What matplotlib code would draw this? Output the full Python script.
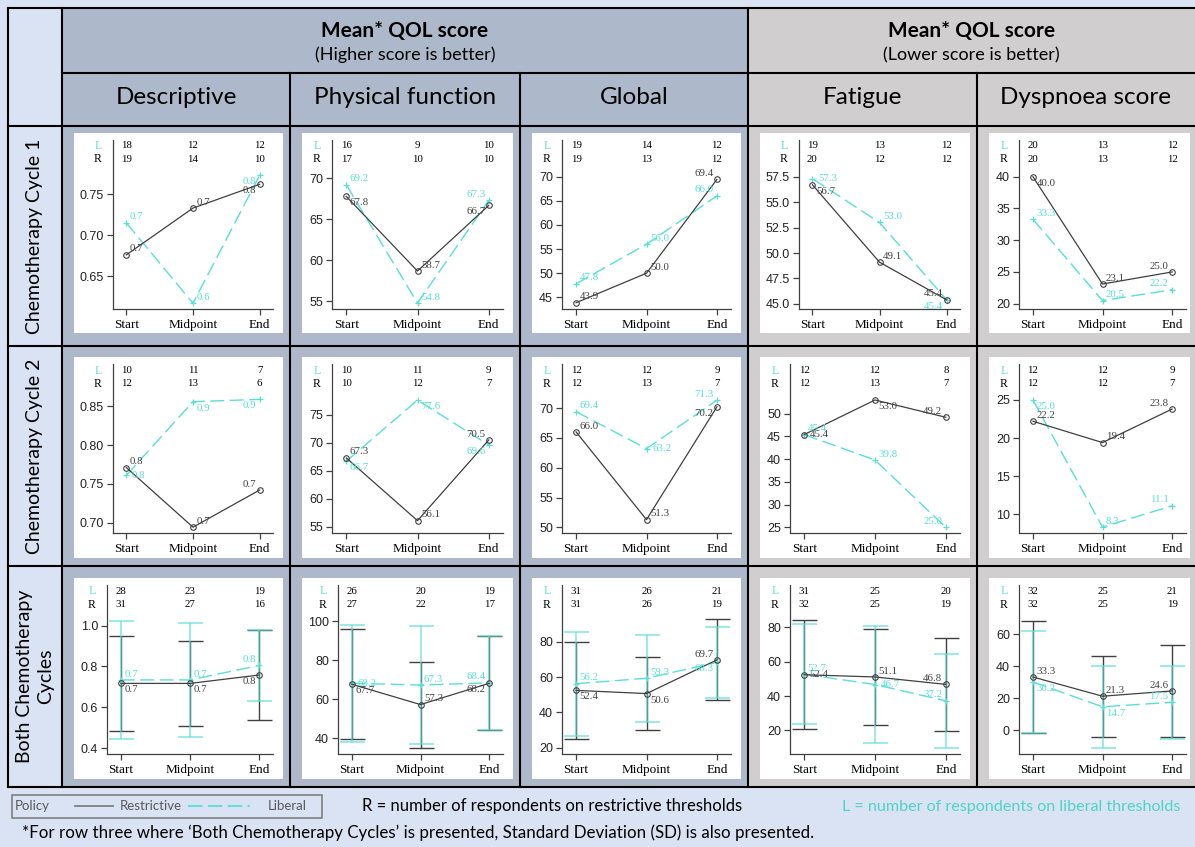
import matplotlib
matplotlib.use("Agg")
import matplotlib.pyplot as plt
from matplotlib.patches import Rectangle
from matplotlib.ticker import FixedLocator, FormatStrFormatter

# ---------------- data ----------------
timepoints = ["Start", "Midpoint", "End"]
measures = ["Descriptive", "Physical function", "Global", "Fatigue", "Dyspnoea score"]
row_names = ["Chemotherapy Cycle 1", "Chemotherapy Cycle 2", "Both Chemotherapy\nCycles"]

# Chemotherapy cycle 1 (one list per measure: Start, Midpoint, End)
c1_restrictive = [[0.676, 0.733, 0.762], [67.8, 58.7, 66.7], [43.9, 50.0, 69.4], [56.7, 49.1, 45.4], [40.0, 23.1, 25.0]]
c1_liberal = [[0.715, 0.617, 0.773], [69.2, 54.8, 67.3], [47.8, 56.0, 66.0], [57.3, 53.0, 45.4], [33.3, 20.5, 22.2]]
c1_n_restrictive = [[19, 14, 10], [17, 10, 10], [19, 13, 12], [20, 12, 12], [20, 13, 12]]
c1_n_liberal = [[18, 12, 12], [16, 9, 10], [19, 14, 12], [19, 13, 12], [20, 13, 12]]

# Chemotherapy cycle 2
c2_restrictive = [[0.771, 0.694, 0.742], [67.3, 56.1, 70.5], [66.0, 51.3, 70.2], [45.4, 53.0, 49.2], [22.2, 19.4, 23.8]]
c2_liberal = [[0.761, 0.856, 0.859], [66.7, 77.6, 69.6], [69.4, 63.2, 71.3], [45.4, 39.8, 25.0], [25.0, 8.3, 11.1]]
c2_n_restrictive = [[12, 13, 6], [10, 12, 7], [12, 13, 7], [12, 13, 7], [12, 12, 7]]
c2_n_liberal = [[10, 11, 7], [10, 11, 9], [12, 12, 9], [12, 12, 8], [12, 12, 9]]

# Both chemotherapy cycles (with SD)
b_restrictive = [[0.717, 0.717, 0.758], [67.7, 57.3, 68.2], [52.4, 50.6, 69.7], [52.4, 51.1, 46.8], [33.3, 21.3, 24.6]]
b_liberal = [[0.734, 0.734, 0.805], [68.2, 67.3, 68.4], [56.2, 59.3, 68.3], [52.7, 46.7, 37.2], [30.2, 14.7, 17.5]]
b_sd_restrictive = [[0.233, 0.207, 0.222], [28.0, 22.0, 24.0], [27.3, 20.8, 23.0], [31.8, 28.0, 27.0], [35.0, 25.4, 29.0]]
b_sd_liberal = [[0.287, 0.280, 0.175], [30.0, 30.0, 24.0], [29.6, 24.7, 20.0], [29.0, 33.9, 27.3], [32.0, 25.7, 22.9]]
b_n_restrictive = [[31, 27, 16], [27, 22, 17], [31, 26, 19], [32, 25, 19], [32, 25, 19]]
b_n_liberal = [[28, 23, 19], [26, 20, 19], [31, 26, 21], [31, 25, 20], [32, 25, 21]]

# axis settings per panel
ylims = [
    [(0.610, 0.816), (54.07, 74.67), (42.6, 77.55), (44.5, 61.1), (19.17, 45.77)],
    [(0.6865, 0.904), (53.9, 83.96), (49.06, 77.3), (23.77, 60.8), (7.53, 29.65)],
    [(0.374, 1.1985), (32.3, 118.4), (16.6, 112.2), (6.57, 104.6), (-14.5, 90.8)],
]
yticks = [
    [[0.65, 0.70, 0.75], [55, 60, 65, 70], [45, 50, 55, 60, 65, 70], [45, 47.5, 50, 52.5, 55, 57.5], [20, 25, 30, 35, 40]],
    [[0.70, 0.75, 0.80, 0.85], [55, 60, 65, 70, 75], [50, 55, 60, 65, 70], [25, 30, 35, 40, 45, 50], [10, 15, 20, 25]],
    [[0.4, 0.6, 0.8, 1.0], [40, 60, 80, 100], [20, 40, 60, 80], [20, 40, 60, 80], [0, 20, 40, 60]],
]
ytick_decimals = [[2, 0, 0, 1, 0], [2, 0, 0, 0, 0], [1, 0, 0, 0, 0]]

# value-label placement (restrictive, liberal) per panel
place_r = [
    [["ur", "ur", "ll"], ["lr", "ur", "ll"], ["ur", "ur", "ul"], ["lr", "ur", "ul"], ["lr", "ur", "ul"]],
    [["ur", "ur", "ul"], ["ur", "ur", "ul"], ["ur", "ur", "ll"], ["r", "lr", "ul"], ["ur", "ur", "ul"]],
    [["lr", "lr", "ll"], ["lr", "ur", "ll"], ["lr", "lr", "ul"], ["r", "ur", "ul"], ["ur", "ur", "ul"]],
]
place_l = [
    [["ur", "ur", "ll"], ["ur", "ur", "ul"], ["ur", "ur", "ul"], ["r", "ur", "ll"], ["ur", "ur", "ul"]],
    [["r", "lr", "ll"], ["lr", "lr", "ll"], ["ur", "r", "ul"], ["ur", "ur", "ul"], ["lr", "ur", "ul"]],
    [["ur", "ur", "ul"], ["r", "ur", "ul"], ["ur", "ur", "ll"], ["ur", "r", "ul"], ["lr", "lr", "ul"]],
]

# ---------------- style ----------------
W, H = 1195, 847
LIGHT = "#dae3f3"
BLUEGREY = "#adb9ca"
GREY = "#d0cece"
CYAN = "#56e0d6"
CYAN_TXT = "#4fd3c8"
DARK = "#404040"
SERIF = ["Liberation Serif", "DejaVu Serif"]
SANS = ["Liberation Sans", "DejaVu Sans"]
HEAD = ["Lato", "DejaVu Sans"]
NARROW = ["Liberation Sans Narrow", "Lato", "DejaVu Sans"]

fig = plt.figure(figsize=(W / 100, H / 100), dpi=100)
fig.patch.set_facecolor("white")


def fig_rect(x0, y0, x1, y1):
    return [x0 / W, 1 - y1 / H, (x1 - x0) / W, (y1 - y0) / H]


bg = fig.add_axes([0, 0, 1, 1], zorder=0)
bg.set_xlim(0, W)
bg.set_ylim(H, 0)
bg.axis("off")

col_edges = [62, 290, 520, 748, 977, 1195]
row_edges = [126, 346, 566, 787]
TOP = 8

# backgrounds
bg.add_patch(Rectangle((0, 0), W, H, facecolor=LIGHT, edgecolor="none"))
bg.add_patch(Rectangle((62, TOP), 748 - 62, 787 - TOP, facecolor=BLUEGREY, edgecolor="none"))
bg.add_patch(Rectangle((748, TOP), W - 748, 787 - TOP, facecolor=GREY, edgecolor="none"))

# grid lines
LW = 1.5
for y in [TOP, 126, 346, 566, 787]:
    bg.plot([8, W], [y, y], color="black", lw=LW)
bg.plot([62, W], [73, 73], color="black", lw=LW)
for x in [8, 62, 748]:
    bg.plot([x, x], [TOP, 787], color="black", lw=LW)
for x in [290, 520, 977]:
    bg.plot([x, x], [73, 787], color="black", lw=LW)

# headers
for (x0, x1, sub) in [(62, 748, "(Higher score is better)"), (748, W, "(Lower score is better)")]:
    cx = (x0 + x1) / 2
    bg.text(cx, 31, "Mean* QOL score", ha="center", va="center", fontsize=15,
            fontweight="bold", family=HEAD, color="black")
    bg.text(cx, 55, sub, ha="center", va="center", fontsize=13, family=HEAD, color="black")
for j, name in enumerate(measures):
    cx = (col_edges[j] + col_edges[j + 1]) / 2
    bg.text(cx, 98, name, ha="center", va="center", fontsize=17.5, family=HEAD, color="black")
for i, name in enumerate(row_names):
    cy = (row_edges[i] + row_edges[i + 1]) / 2
    bg.text(35, cy, name, ha="center", va="center", rotation=90, fontsize=14,
            family=HEAD, color="black", linespacing=1.25)

# legend / footnote area
bg.add_patch(Rectangle((12, 795), 310, 23, facecolor="none", edgecolor="#808080", lw=1.2))
bg.text(15, 806.5, "Policy", ha="left", va="center", fontsize=9.5, family=NARROW, color="#595959")
bg.plot([75, 113], [806.5, 806.5], color="#7f7f7f", lw=1.3)
bg.text(120, 806.5, "Restrictive", ha="left", va="center", fontsize=9.5, family=NARROW, color="#595959")
bg.plot([188, 250], [806.5, 806.5], color=CYAN, lw=1.3, dashes=(8, 3))
bg.text(268, 806.5, "Liberal", ha="left", va="center", fontsize=9.5, family=NARROW, color="#595959")
bg.text(362, 806.5, "R = number of respondents on restrictive thresholds", ha="left", va="center",
        fontsize=12, family=HEAD, color="black")
bg.text(1180, 806.5, "L = number of respondents on liberal thresholds", ha="right", va="center",
        fontsize=11.6, family=HEAD, color=CYAN_TXT)
bg.text(22, 833, "*For row three where \u2018Both Chemotherapy Cycles\u2019 is presented, "
        "Standard Deviation (SD) is also presented.", ha="left", va="center",
        fontsize=12.2, family=HEAD, color="black")

# panels
row_axes_y = [(140, 309), (364.5, 533), (585, 753.5)]
row_white_y = [(133, 333), (357, 558), (578, 779)]

restrictive = [c1_restrictive, c2_restrictive, b_restrictive]
liberal = [c1_liberal, c2_liberal, b_liberal]
n_restrictive = [c1_n_restrictive, c2_n_restrictive, b_n_restrictive]
n_liberal = [c1_n_liberal, c2_n_liberal, b_n_liberal]

PX = 0.72  # points per pixel
offsets = {
    "ur": ((2.5, 1.0), "left", "bottom"),
    "lr": ((2.5, -1.5), "left", "top"),
    "ul": ((-2.5, 1.0), "right", "bottom"),
    "ll": ((-2.5, -1.5), "right", "top"),
    "r": ((4.0, 0.0), "left", "center"),
}


def label_width(s):
    return sum(6 if c.isdigit() else 3 for c in s)


xs = list(range(len(timepoints)))
for i in range(3):
    ay0, ay1 = row_axes_y[i]
    wy0, wy1 = row_white_y[i]
    for j in range(5):
        cl, cr = col_edges[j], col_edges[j + 1]
        wr = cr - 7 if j < 4 else 1190
        bg.add_patch(Rectangle((cl + 12, wy0), wr - cl - 12, wy1 - wy0, facecolor="white", edgecolor="none"))
        dec = ytick_decimals[i][j]
        tl = [f"{t:.{dec}f}" for t in yticks[i][j]]
        left = cl + 30 + max(label_width(s) for s in tl)
        right = cr - 17 if j < 4 else 1186
        ax = fig.add_axes(fig_rect(left, ay0, right, ay1), zorder=2)
        ax.set_facecolor("none")
        for s in ["top", "right"]:
            ax.spines[s].set_visible(False)
        for s in ["left", "bottom"]:
            ax.spines[s].set_color(DARK)
            ax.spines[s].set_linewidth(0.9)
        ax.set_xlim(-0.2, 2.2)
        ax.set_ylim(*ylims[i][j])
        ax.yaxis.set_major_locator(FixedLocator(yticks[i][j]))
        ax.yaxis.set_major_formatter(FormatStrFormatter(f"%.{dec}f"))
        ax.set_xticks(xs)
        ax.set_xticklabels(timepoints, family=SERIF, fontsize=9.5)
        ax.tick_params(axis="x", direction="out", length=4, width=0.9, color=DARK, pad=3.5, labelcolor="black")
        ax.tick_params(axis="y", direction="out", length=4, width=0.9, color=DARK, pad=2.5,
                       labelsize=9, labelcolor="#222222")
        for t in ax.get_yticklabels():
            t.set_family(SANS)

        R = restrictive[i][j]
        L = liberal[i][j]
        if i == 2:
            ax.errorbar(xs, R, yerr=b_sd_restrictive[j], fmt="none", ecolor=DARK, elinewidth=1.0,
                        capsize=9, capthick=1.0, zorder=2)
            ax.errorbar(xs, L, yerr=b_sd_liberal[j], fmt="none", ecolor=CYAN, elinewidth=1.2,
                        capsize=9, capthick=1.2, alpha=0.7, zorder=2.5)
        ax.plot(xs, L, color=CYAN, lw=1.0, dashes=(10, 4), marker="+", ms=5, mew=0.9, zorder=3)
        ax.plot(xs, R, color=DARK, lw=0.9, marker="o", ms=4, mfc="none", mec=DARK, mew=0.8, zorder=4)

        for k in xs:
            for vals, pl, col in [(R, place_r[i][j][k], DARK), (L, place_l[i][j][k], CYAN)]:
                off, ha, va = offsets[pl]
                ax.annotate(f"{vals[k]:.1f}", xy=(k, vals[k]), xytext=off, textcoords="offset points",
                            ha=ha, va=va, fontsize=7.8, family=SERIF, color=col, zorder=5)
            ax.annotate(str(n_liberal[i][j][k]), xy=(k, 1), xycoords=("data", "axes fraction"),
                        xytext=(0, -6 * PX), textcoords="offset points", ha="center", va="center",
                        fontsize=7.8, family=SERIF, color="black")
            ax.annotate(str(n_restrictive[i][j][k]), xy=(k, 1), xycoords=("data", "axes fraction"),
                        xytext=(0, -19.5 * PX), textcoords="offset points", ha="center", va="center",
                        fontsize=7.8, family=SERIF, color="black")
        ax.annotate("L", xy=(0, 1), xycoords="axes fraction", xytext=(-15 * PX, -6 * PX),
                    textcoords="offset points", ha="center", va="center", fontsize=8.5, family=SERIF, color=CYAN)
        ax.annotate("R", xy=(0, 1), xycoords="axes fraction", xytext=(-15 * PX, -19.5 * PX),
                    textcoords="offset points", ha="center", va="center", fontsize=8.5, family=SERIF, color="black")

fig.savefig("out.png", dpi=100)
